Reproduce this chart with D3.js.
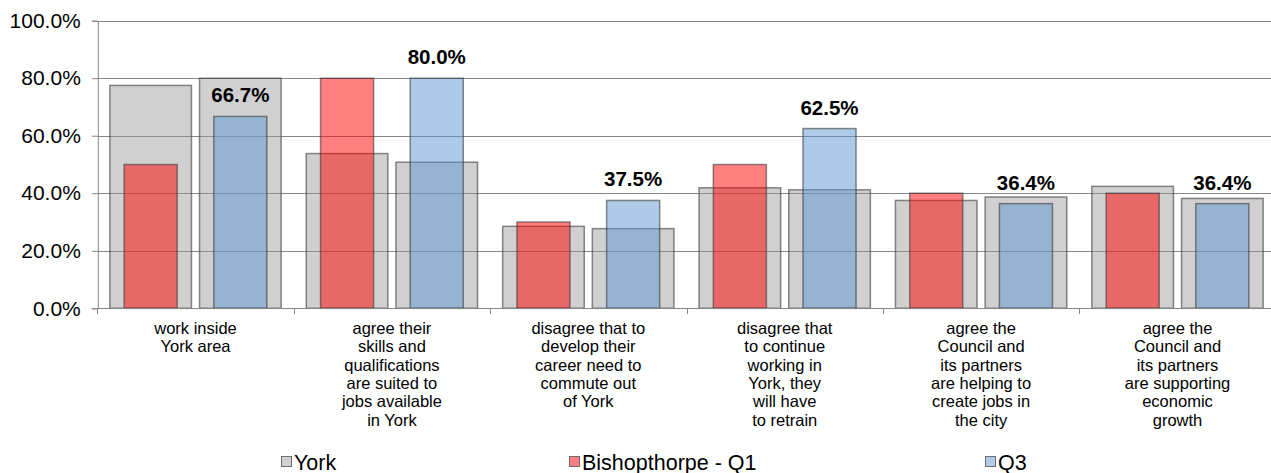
<!DOCTYPE html>
<html>
<head>
<meta charset="utf-8">
<script src="https://cdn.jsdelivr.net/npm/d3@7"></script>
<style>
  html, body { margin: 0; padding: 0; background: #fff; }
  svg { display: block; font-family: "Liberation Sans", Arial, sans-serif; }
</style>
</head>
<body>
<svg id="chart" width="1271" height="473"></svg>
<script>
const categories = [
  ["work inside", "York area"],
  ["agree their", "skills and", "qualifications", "are suited to", "jobs available", "in York"],
  ["disagree that to", "develop their", "career need to", "commute out", "of York"],
  ["disagree that", "to continue", "working in", "York, they", "will have", "to retrain"],
  ["agree the", "Council and", "its partners", "are helping to", "create jobs in", "the city"],
  ["agree the", "Council and", "its partners", "are supporting", "economic", "growth"]
];
const yorkBehindQ1 = [77.5, 53.8, 28.5, 41.9, 37.5, 42.4];
const yorkBehindQ3 = [80.0, 50.8, 27.7, 41.2, 38.7, 38.2];
const q1Values = [50.0, 80.0, 30.0, 50.0, 40.0, 40.0];
const q3Values = [66.7, 80.0, 37.5, 62.5, 36.4, 36.4];
const yTicks = [0, 20, 40, 60, 80, 100];
const legendLabels = ["York", "Bishopthorpe - Q1", "Q3"];

(function () {
const svg = d3.select("#chart");
const mLeft = 97.3, mRight = 97.3 + 6 * 196.4, mTop = 20.7, mBottom = 308.3;

const x0 = d3.scaleBand().domain(d3.range(categories.length)).range([mLeft, mRight]).padding(0);
const x1 = d3.scaleBand().domain(["Q1", "Q3"]).range([0, x0.bandwidth()]).paddingInner(0.09).paddingOuter(0.14);
const y = d3.scaleLinear().domain([0, 100]).range([mBottom, mTop]);

// gridlines
svg.append("g").selectAll("line").data(yTicks.filter(d => d > 0)).join("line")
  .attr("x1", mLeft).attr("x2", mRight)
  .attr("y1", d => Math.round(y(d)) + 0.5).attr("y2", d => Math.round(y(d)) + 0.5)
  .attr("stroke", "#878787").attr("stroke-width", 1);

// y axis
const yAxis = d3.axisLeft(y).tickValues(yTicks).tickSize(6).tickPadding(11)
  .tickFormat(d => d3.format(".1f")(d) + "%");
const gy = svg.append("g").attr("transform", `translate(${mLeft + 0.5},0)`).call(yAxis);
gy.select(".domain").attr("stroke", "#878787");
gy.selectAll(".tick line").attr("stroke", "#878787");
gy.selectAll(".tick text").attr("font-size", "21px").attr("fill", "#000")
  .attr("font-family", "'Liberation Sans', Arial, sans-serif");

// bars
const series = [
  { key: "Q1", york: yorkBehindQ1, vals: q1Values, fill: "rgb(255,0,0)" },
  { key: "Q3", york: yorkBehindQ3, vals: q3Values, fill: "rgb(91,151,211)" }
];
const gBars = svg.append("g");
series.forEach(s => {
  gBars.append("g").selectAll("rect").data(s.york).join("rect")
    .attr("x", (d, i) => x0(i) + x1(s.key))
    .attr("y", d => y(d))
    .attr("width", x1.bandwidth())
    .attr("height", d => y(0) - y(d))
    .attr("fill", "rgb(150,150,150)").attr("fill-opacity", 0.45)
    .attr("stroke", "rgb(60,60,60)").attr("stroke-opacity", 0.6).attr("stroke-width", 1.5);
});
series.forEach(s => {
  const w = x1.bandwidth() * 0.65;
  gBars.append("g").selectAll("rect").data(s.vals).join("rect")
    .attr("x", (d, i) => x0(i) + x1(s.key) + (x1.bandwidth() - w) / 2)
    .attr("y", d => y(d))
    .attr("width", w)
    .attr("height", d => y(0) - y(d))
    .attr("fill", s.fill).attr("fill-opacity", 0.5)
    .attr("stroke", "rgb(60,60,60)").attr("stroke-opacity", 0.6).attr("stroke-width", 1.5);
});

// data labels on Q3
svg.append("g").selectAll("text").data(q3Values).join("text")
  .attr("x", (d, i) => x0(i) + x1("Q3") + x1.bandwidth() / 2)
  .attr("y", d => y(d) - 14)
  .attr("text-anchor", "middle")
  .attr("font-size", "20.5px").attr("font-weight", "bold").attr("fill", "#000")
  .text(d => d3.format(".1f")(d) + "%");

// x axis
const xAxisG = svg.append("g");
xAxisG.append("line").attr("x1", mLeft).attr("x2", mRight)
  .attr("y1", Math.round(mBottom) + 0.5).attr("y2", Math.round(mBottom) + 0.5)
  .attr("stroke", "#878787");
const bounds = d3.range(categories.length + 1).map(i => i < categories.length ? x0(i) : mRight);
xAxisG.selectAll("line.tk").data(bounds).join("line").attr("class", "tk")
  .attr("x1", d => Math.round(d) + 0.5).attr("x2", d => Math.round(d) + 0.5)
  .attr("y1", Math.round(mBottom)).attr("y2", Math.round(mBottom) + 6)
  .attr("stroke", "#878787");

// category labels
const catG = svg.append("g").selectAll("text").data(categories).join("text")
  .attr("text-anchor", "middle")
  .attr("font-size", "16.5px").attr("fill", "#000")
  .attr("transform", (d, i) => `translate(${x0(i) + x0.bandwidth() / 2},334)`);
catG.selectAll("tspan").data(d => d).join("tspan")
  .attr("x", 0).attr("y", (d, j) => j * 18.3).text(d => d);

// legend
const legendX = [281, 569, 985];
const legendFill = ["#d0d0d0", "#ff8080", "#aecbea"];
const lg = svg.append("g").selectAll("g").data(legendLabels).join("g")
  .attr("transform", (d, i) => `translate(${legendX[i]},0)`);
lg.append("rect").attr("x", 0.5).attr("y", 456.5).attr("width", 10).attr("height", 10)
  .attr("fill", (d, i) => legendFill[i]).attr("stroke", "#6e6e6e");
lg.append("text").attr("x", 13).attr("y", 469.5).attr("font-size", "21.5px").attr("fill", "#000")
  .text(d => d);
})();
</script>
</body>
</html>
